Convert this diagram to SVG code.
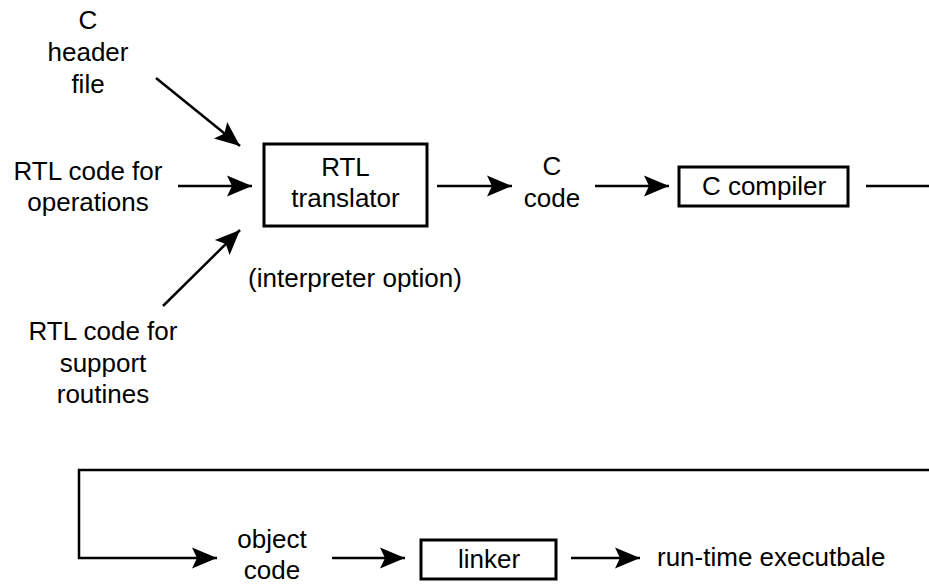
<svg xmlns="http://www.w3.org/2000/svg" width="929" height="584" viewBox="0 0 929 584">
<style>
text{font-family:"Liberation Sans",Arial,Helvetica,sans-serif;font-size:26px;fill:#000;text-anchor:middle}
.box{fill:#fff;stroke:#000;stroke-width:3}
.ln{fill:none;stroke:#000;stroke-width:2.5}
.arr{marker-end:url(#ah)}
</style>
<defs>
<marker id="ah" markerUnits="userSpaceOnUse" markerWidth="30" markerHeight="26" viewBox="-26 -13 30 26" refX="0" refY="0" orient="auto">
<path d="M0,0 L-25,-10.5 L-20,0 L-25,10.5 Z" fill="#000"/>
</marker>
</defs>
<rect width="929" height="584" fill="#fff"/>
<g id="connectors">
<line class="ln arr" x1="156" y1="78" x2="240" y2="146"/>
<line class="ln arr" x1="178" y1="186" x2="252" y2="186"/>
<line class="ln arr" x1="163" y1="306" x2="240" y2="230"/>
<line class="ln arr" x1="437" y1="186" x2="512" y2="186"/>
<line class="ln arr" x1="595" y1="186" x2="669" y2="186"/>
<line class="ln" x1="866" y1="186" x2="929" y2="186"/>
<polyline class="ln arr" points="929,470 79,470 79,558 217,558"/>
<line class="ln arr" x1="332" y1="558" x2="405" y2="558"/>
<line class="ln arr" x1="571" y1="558" x2="640" y2="558"/>
</g>
<g id="c-header">
<text x="88" y="29">C</text>
<text x="88" y="61">header</text>
<text x="88" y="93">file</text>
</g>
<g id="rtl-ops">
<text x="88" y="180">RTL code for</text>
<text x="88" y="211">operations</text>
</g>
<g id="rtl-support">
<text x="103" y="340">RTL code for</text>
<text x="103" y="372">support</text>
<text x="103" y="403">routines</text>
</g>
<g id="rtl-translator">
<rect class="box" x="264" y="144" width="163" height="82"/>
<text x="345.5" y="176">RTL</text>
<text x="345.5" y="207">translator</text>
</g>
<g id="interp-note">
<text x="355" y="287">(interpreter option)</text>
</g>
<g id="c-code">
<text x="552" y="175">C</text>
<text x="552" y="207">code</text>
</g>
<g id="c-compiler">
<rect class="box" x="679" y="167" width="169" height="39"/>
<text x="764" y="195">C compiler</text>
</g>
<g id="object-code">
<text x="272" y="548">object</text>
<text x="272" y="579">code</text>
</g>
<g id="linker">
<rect class="box" x="421" y="540" width="135" height="39"/>
<text x="489" y="568">linker</text>
</g>
<g id="runtime">
<text x="657" y="566" style="text-anchor:start">run-time executbale</text>
</g>
</svg>
